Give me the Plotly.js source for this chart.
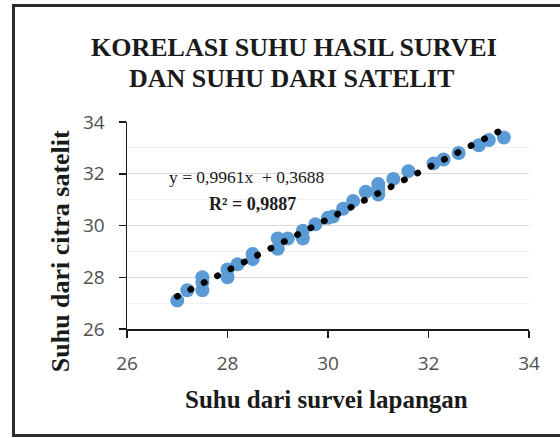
<!DOCTYPE html>
<html>
<head>
<meta charset="utf-8">
<script src="https://cdn.plot.ly/plotly-3.0.1.min.js"></script>
<style>
html,body{margin:0;padding:0;background:#fff;}
#wrap{position:relative;width:560px;height:438px;overflow:hidden;}
#chart{width:560px;height:438px;}
#frame{position:absolute;left:12px;top:4px;width:560px;height:427px;border-left:3px solid #2b2b2b;border-top:3px solid #2b2b2b;border-bottom:3px solid #2b2b2b;pointer-events:none;}
#chart .scatterlayer .trace:nth-child(2) .js-line{stroke-linecap:round;}
</style>
</head>
<body>
<div id="wrap"><div id="chart"></div><div id="frame"></div></div>
<script>
// Field survey temperature (x) vs satellite-derived temperature (y)
var surveyTemp = [27, 27.2, 27.5, 27.5, 27.5, 28, 28, 28.2, 28.5, 28.5, 29, 29, 29.2, 29.5, 29.5, 29.75, 30, 30.1, 30.3, 30.5, 30.75, 31, 31, 31, 31.3, 31.6, 32.1, 32.3, 32.6, 33, 33.2, 33.5];
var satelliteTemp = [27.1, 27.5, 27.5, 27.8, 28.0, 28.0, 28.3, 28.5, 28.7, 28.9, 29.1, 29.5, 29.5, 29.5, 29.8, 30.05, 30.3, 30.35, 30.65, 30.95, 31.3, 31.2, 31.4, 31.6, 31.8, 32.1, 32.4, 32.55, 32.8, 33.1, 33.3, 33.4];
// Linear trendline as printed on the chart
var slope = 0.9961;
var intercept = 0.3688;
var trendX = [27, 33.5];
var trendY = trendX.map(function(v){ return slope * v + intercept; });
var tickVals = [26, 28, 30, 32, 34];
var tickText = ['26', '28', '30', '32', '34'];
var titleLines = ['KORELASI SUHU HASIL SURVEI', 'DAN SUHU DARI SATELIT'];

var serif = '"Liberation Serif", "Times New Roman", serif';
var sans = '"Open Sans", "Noto Sans", sans-serif';
var ink = '#1a1a1a';

var data = [
  {x: surveyTemp, y: satelliteTemp, type: 'scatter', mode: 'markers',
   marker: {color: '#5b9bd5', size: 14, line: {width: 0}}, hoverinfo: 'x+y'},
  {x: trendX, y: trendY, type: 'scatter', mode: 'lines',
   line: {color: '#000000', width: 6.5, dash: '0.5px,14.5px'}, hoverinfo: 'skip'}
];

var layout = {
  width: 560, height: 438,
  margin: {l: 127, r: 31, t: 122, b: 109},
  paper_bgcolor: '#ffffff', plot_bgcolor: '#ffffff',
  showlegend: false,
  xaxis: {range: [26, 34], tickmode: 'array', tickvals: tickVals, ticktext: tickText,
          showgrid: false, zeroline: false, showline: true, linecolor: ink, linewidth: 1.5,
          ticks: 'outside', ticklen: 7, tickwidth: 1.5, tickcolor: ink, ticklabelstandoff: 10,
          tickfont: {family: sans, size: 19, color: '#505050'}},
  yaxis: {range: [26, 34], tickmode: 'array', tickvals: tickVals, ticktext: tickText,
          showgrid: true, gridcolor: '#d9d9d9', gridwidth: 1,
          minor: {dtick: 1, showgrid: true, gridcolor: '#f1f1f1', gridwidth: 1},
          zeroline: false, showline: true, linecolor: ink, linewidth: 1.5,
          ticks: 'outside', ticklen: 7, tickwidth: 1.5, tickcolor: ink, ticklabelstandoff: 10,
          tickfont: {family: sans, size: 19, color: '#505050'}},
  annotations: [
    {text: titleLines[0], xref: 'paper', yref: 'paper', x: 0.415, y: 1.362,
     xanchor: 'center', yanchor: 'middle', showarrow: false,
     font: {family: serif, size: 26, color: ink, weight: 'bold'}},
    {text: titleLines[1], xref: 'paper', yref: 'paper', x: 0.408, y: 1.212,
     xanchor: 'center', yanchor: 'middle', showarrow: false,
     font: {family: serif, size: 26, color: ink, weight: 'bold'}},
    {text: 'Suhu dari citra satelit', textangle: -90, xref: 'paper', yref: 'paper',
     x: -0.165, y: 0.374, xanchor: 'center', yanchor: 'middle', showarrow: false,
     font: {family: serif, size: 26, color: ink, weight: 'bold'}},
    {text: 'Suhu dari survei lapangan', xref: 'paper', yref: 'paper',
     x: 0.497, y: -0.34, xanchor: 'center', yanchor: 'middle', showarrow: false,
     font: {family: serif, size: 25, color: ink, weight: 'bold'}},
    {text: 'y = 0,9961x  + 0,3688', xref: 'paper', yref: 'paper', x: 0.1, y: 0.735,
     xanchor: 'left', yanchor: 'middle', showarrow: false,
     font: {family: serif, size: 17.5, color: ink}},
    {text: '<b>R² = 0,9887</b>', xref: 'paper', yref: 'paper', x: 0.2, y: 0.605,
     xanchor: 'left', yanchor: 'middle', showarrow: false,
     font: {family: serif, size: 18, color: ink}}
  ]
};

Plotly.newPlot('chart', data, layout, {displayModeBar: false, staticPlot: true});
</script>
</body>
</html>
